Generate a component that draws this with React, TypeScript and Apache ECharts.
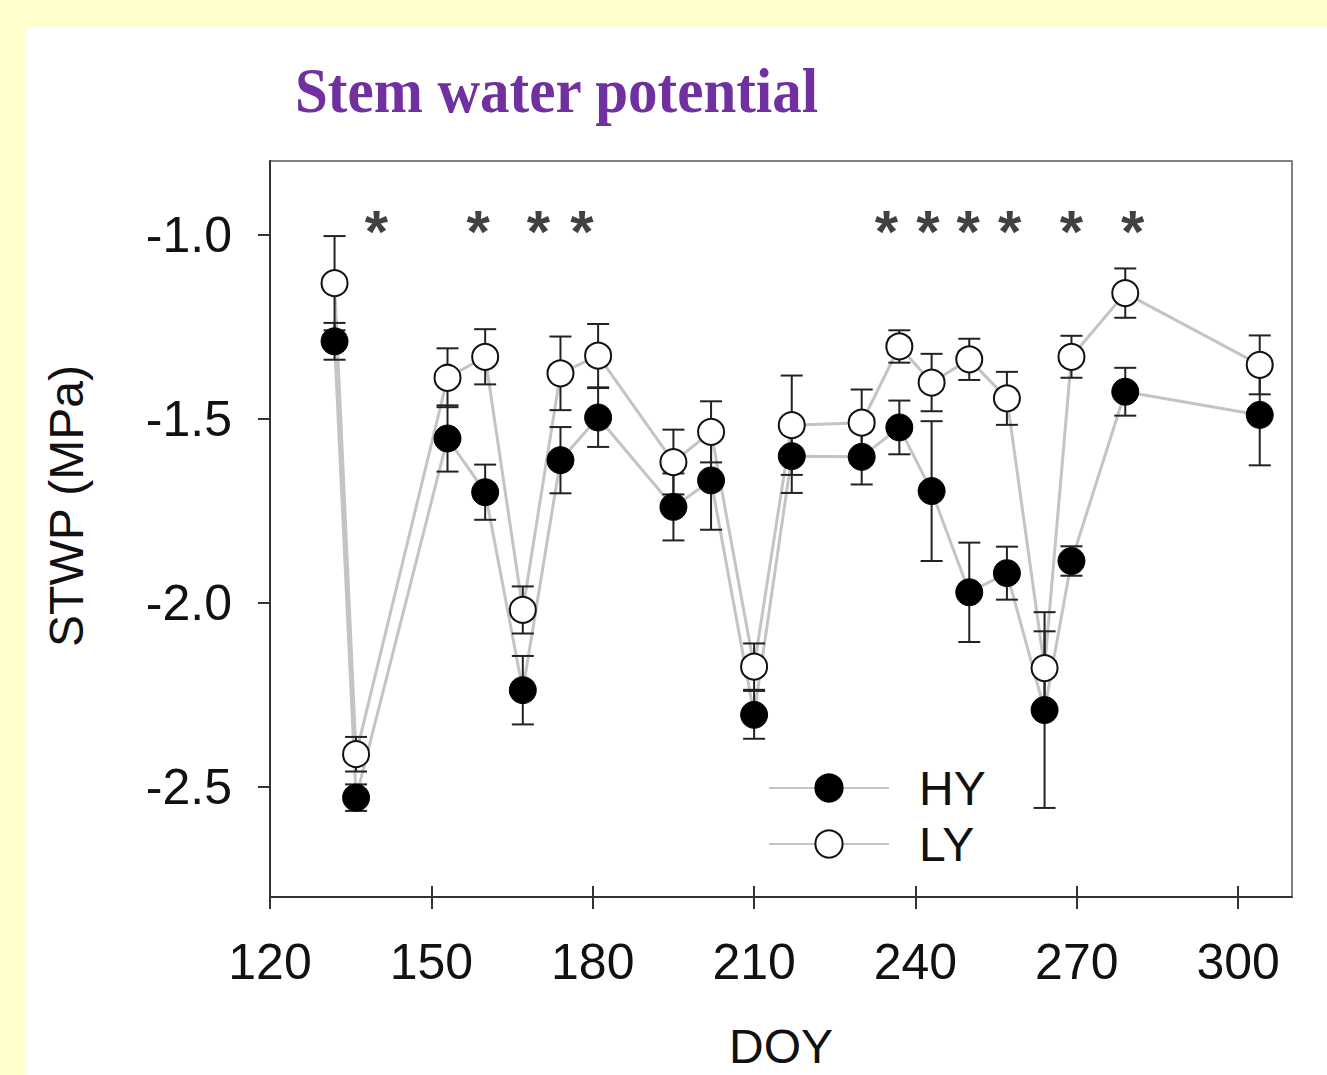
import React, { useEffect, useRef } from "react";
import * as echarts from "echarts";

// ---- data ----
const doy = [132, 136, 153, 160, 167, 174, 181, 195, 202, 210, 217, 230, 237, 243, 250, 257, 264, 269, 279, 304];
const hyMean = [-1.29, -2.53, -1.554, -1.70, -2.238, -1.613, -1.497, -1.740, -1.668, -2.305, -1.602, -1.604, -1.524, -1.697, -1.972, -1.920, -2.292, -1.887, -1.427, -1.490];
const hyErr = [0.05, 0.036, 0.09, 0.075, 0.093, 0.09, 0.08, 0.091, 0.134, 0.065, 0.10, 0.075, 0.073, 0.19, 0.135, 0.072, 0.266, 0.04, 0.065, 0.137];
const lyMean = [-1.132, -2.412, -1.389, -1.332, -2.020, -1.377, -1.329, -1.618, -1.536, -2.174, -1.518, -1.511, -1.304, -1.402, -1.339, -1.445, -2.178, -1.332, -1.159, -1.354];
const lyErr = [0.128, 0.047, 0.08, 0.075, 0.064, 0.10, 0.086, 0.088, 0.083, 0.063, 0.135, 0.09, 0.044, 0.078, 0.056, 0.072, 0.10, 0.057, 0.067, 0.08];
const sigDoy = [139.8, 158.7, 169.9, 178.0, 234.6, 242.3, 249.8, 257.5, 269.0, 280.4];
const sigLevel = -0.967;
const xTicks = [120, 150, 180, 210, 240, 270, 300];
const yTicks = [-2.5, -2.0, -1.5, -1.0];
const seriesNames = ["HY", "LY"];

const FONT = "'Liberation Sans', Arial, sans-serif";

export default function App() {
  const ref = useRef<HTMLDivElement>(null);

  useEffect(() => {
    document.body.style.margin = "0";
    const chart = echarts.init(ref.current!, null, { renderer: "svg" });

    const errData = (m: number[], e: number[]) => doy.map((d, i) => [d, m[i] - e[i], m[i] + e[i]]);
    const pts = (m: number[]) => doy.map((d, i) => [d, m[i]]);

    const errorBarSeries = (name: string, m: number[], e: number[]) => ({
      type: "custom",
      name,
      z: 2,
      data: errData(m, e),
      renderItem: (params: any, api: any) => {
        const x = api.value(0);
        const lo = api.coord([x, api.value(1)]);
        const hi = api.coord([x, api.value(2)]);
        const cap = 11;
        const st = { stroke: "#222", lineWidth: 2 };
        return {
          type: "group",
          children: [
            { type: "line", shape: { x1: lo[0], y1: lo[1], x2: hi[0], y2: hi[1] }, style: st },
            { type: "line", shape: { x1: lo[0] - cap, y1: lo[1], x2: lo[0] + cap, y2: lo[1] }, style: st },
            { type: "line", shape: { x1: hi[0] - cap, y1: hi[1], x2: hi[0] + cap, y2: hi[1] }, style: st },
          ],
        };
      },
    });

    const option: any = {
      animation: false,
      backgroundColor: "#FFFFCC",
      graphic: [
        { type: "rect", z: -10, shape: { x: 26, y: 27, width: 1327 - 26, height: 1075 - 27 }, style: { fill: "#ffffff" } },
        {
          type: "text",
          x: 295,
          y: 60,
          scaleY: 1.06,
          style: {
            text: "Stem water potential",
            fill: "#7030A0",
            font: "bold 59px 'Liberation Serif', 'Times New Roman', serif",
          },
        },
        {
          type: "text",
          x: 66,
          y: 506,
          rotation: Math.PI / 2,
          style: {
            text: "STWP (MPa)",
            fill: "#111",
            font: "48px " + FONT,
            align: "center",
            verticalAlign: "middle",
          },
        },
      ],
      grid: {
        left: 270,
        top: 161,
        width: 1022,
        height: 736,
        containLabel: false,
        outerBoundsMode: "none",
        show: true,
        borderColor: "#555",
        borderWidth: 1.5,
        backgroundColor: "transparent",
      },
      legend: {
        data: seriesNames,
        orient: "vertical",
        left: 768,
        top: 764,
        padding: 0,
        itemWidth: 120,
        itemHeight: 34,
        itemGap: 8,
        itemStyle: { borderWidth: 2 },
        textStyle: { fontSize: 48, fontFamily: FONT, color: "#111", padding: [0, 0, 0, 25] },
      },
      xAxis: [
        {
          type: "value",
          min: 120,
          max: 310,
          splitLine: { show: false },
          axisLine: { onZero: false, lineStyle: { color: "#333", width: 2 } },
          axisTick: { show: true, length: 12, customValues: xTicks, lineStyle: { color: "#333", width: 2 } },
          axisLabel: {
            customValues: xTicks,
            fontSize: 50,
            fontFamily: FONT,
            color: "#111",
            margin: 40,
          },
          name: "DOY",
          nameLocation: "middle",
          nameGap: 131,
          nameTextStyle: { fontSize: 48, lineHeight: 36, fontFamily: FONT, color: "#111" },
        },
        {
          type: "value",
          min: 120,
          max: 310,
          position: "bottom",
          splitLine: { show: false },
          axisLine: { show: false },
          axisLabel: { show: false },
          axisTick: { show: true, inside: true, length: 11, customValues: xTicks, lineStyle: { color: "#333", width: 2 } },
        },
      ],
      yAxis: {
        type: "value",
        min: -2.8,
        max: -0.8,
        splitLine: { show: false },
        axisLine: { onZero: false, lineStyle: { color: "#333", width: 2 } },
        axisTick: { show: true, length: 12, customValues: yTicks, lineStyle: { color: "#333", width: 2 } },
        axisLabel: {
          customValues: yTicks,
          formatter: (v: number) => v.toFixed(1),
          fontSize: 50,
          fontFamily: FONT,
          color: "#111",
          margin: 38,
        },
      },
      series: [
        {
          type: "line",
          name: "HY",
          z: 1,
          data: pts(hyMean),
          symbol: "none",
          lineStyle: { color: "#c4c4c4", width: 3 },
          itemStyle: { color: "#000", borderColor: "#000", borderWidth: 2 },
        },
        {
          type: "line",
          name: "LY",
          z: 1,
          data: pts(lyMean),
          symbol: "none",
          lineStyle: { color: "#c4c4c4", width: 3 },
          itemStyle: { color: "#fff", borderColor: "#111", borderWidth: 2 },
        },
        errorBarSeries("HY err", hyMean, hyErr),
        errorBarSeries("LY err", lyMean, lyErr),
        {
          type: "scatter",
          name: "HY pts",
          z: 3,
          data: pts(hyMean),
          symbolSize: 27,
          itemStyle: { color: "#000", borderColor: "#000", borderWidth: 1, opacity: 1 },
        },
        {
          type: "scatter",
          name: "LY pts",
          z: 3,
          data: pts(lyMean),
          symbolSize: 26,
          itemStyle: { color: "#fff", borderColor: "#111", borderWidth: 2, opacity: 1 },
        },
        {
          type: "scatter",
          name: "significance",
          z: 4,
          data: sigDoy.map((d) => [d, sigLevel]),
          symbolSize: 1,
          itemStyle: { color: "transparent" },
          label: {
            show: true,
            position: "inside",
            formatter: "*",
            fontSize: 60,
            fontWeight: "bold",
            fontFamily: FONT,
            color: "#111",
            offset: [0, 9],
          },
        },
      ],
    };

    chart.setOption(option);
    return () => chart.dispose();
  }, []);

  return <div ref={ref} style={{ position: "absolute", left: 0, top: 0, width: 1327, height: 1075 }} />;
}
